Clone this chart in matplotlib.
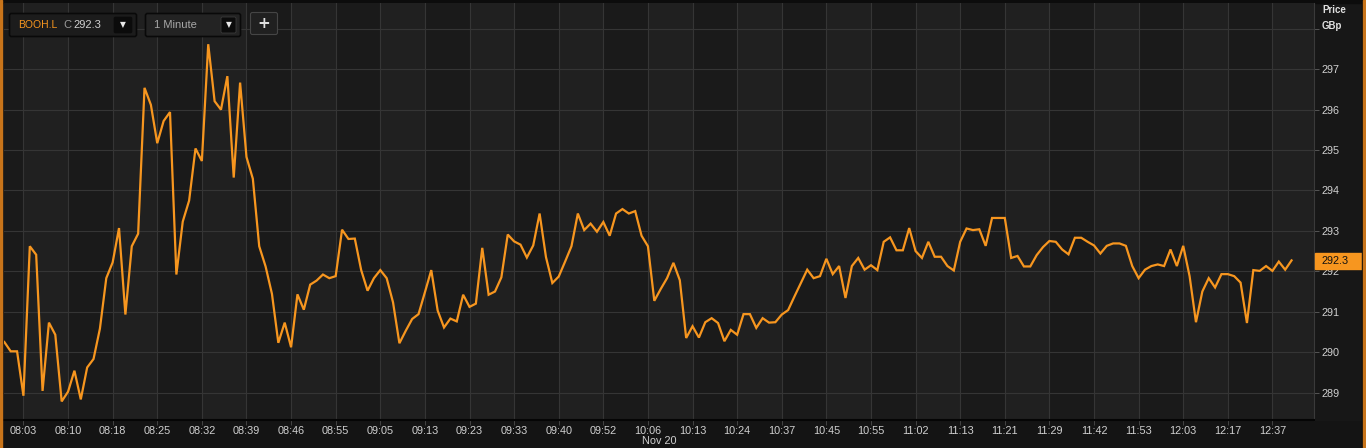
import numpy as np
import matplotlib.pyplot as plt
from matplotlib.patches import Rectangle, FancyBboxPatch

plt.rcParams['font.family'] = ['Liberation Sans', 'DejaVu Sans']

# ----- data (1 minute closes, BOOH.L) -----
prices = [
    290.25, 290.02, 290.02, 288.92, 292.62, 292.41, 289.04, 290.73, 290.43, 288.78,
    289.02, 289.54, 288.83, 289.62, 289.83, 290.58, 291.83, 292.22, 293.07, 290.93,
    292.62, 292.93, 296.54, 296.12, 295.17, 295.72, 295.94, 291.92, 293.23, 293.75,
    295.04, 294.73, 297.62, 296.21, 296.00, 296.83, 294.32, 296.67, 294.83, 294.29,
    292.62, 292.12, 291.44, 290.23, 290.73, 290.12, 291.43, 291.05, 291.67, 291.77,
    291.92, 291.83, 291.88, 293.03, 292.80, 292.81, 292.03, 291.52, 291.83, 292.03,
    291.83, 291.23, 290.22, 290.53, 290.82, 290.94, 291.48, 292.03, 291.03, 290.61,
    290.83, 290.76, 291.42, 291.12, 291.20, 292.58, 291.42, 291.50, 291.85, 292.91,
    292.74, 292.66, 292.34, 292.64, 293.43, 292.35, 291.71, 291.87, 292.24, 292.62,
    293.43, 293.02, 293.18, 292.98, 293.22, 292.88, 293.43, 293.54, 293.43, 293.49,
    292.88, 292.62, 291.27, 291.56, 291.83, 292.21, 291.78, 290.35, 290.64, 290.36,
    290.74, 290.84, 290.72, 290.27, 290.55, 290.43, 290.94, 290.94, 290.60, 290.84,
    290.73, 290.74, 290.93, 291.04, 291.38, 291.71, 292.04, 291.83, 291.88, 292.31,
    291.93, 292.13, 291.34, 292.13, 292.33, 292.04, 292.15, 292.03, 292.73, 292.84,
    292.52, 292.52, 293.07, 292.50, 292.33, 292.73, 292.36, 292.36, 292.13, 292.02,
    292.73, 293.06, 293.02, 293.04, 292.63, 293.32, 293.32, 293.32, 292.33, 292.38,
    292.12, 292.12, 292.40, 292.60, 292.75, 292.73, 292.54, 292.42, 292.83, 292.83,
    292.73, 292.64, 292.44, 292.63, 292.69, 292.69, 292.63, 292.13, 291.83, 292.04,
    292.13, 292.17, 292.13, 292.54, 292.13, 292.63, 291.88, 290.74, 291.50, 291.83,
    291.60, 291.93, 291.93, 291.88, 291.72, 290.72, 292.03, 292.01, 292.13, 292.01,
    292.24, 292.04, 292.27,
]
time_labels = ['08:03', '08:10', '08:18', '08:25', '08:32', '08:39', '08:46', '08:55',
               '09:05', '09:13', '09:23', '09:33', '09:40', '09:52', '10:06', '10:13',
               '10:24', '10:37', '10:45', '10:55', '11:02', '11:13', '11:21', '11:29',
               '11:42', '11:53', '12:03', '12:17', '12:37']
date_label = 'Nov 20'
price_ticks = [289, 290, 291, 292, 293, 294, 295, 296, 297, 298]
symbol = 'BOOH.L'
last_price = 292.3
interval = '1 Minute'

# colours
ORANGE = '#f7961f'
TXT = '#d0d0d0'
GRID = '#353535'
DARK_COL = '#1a1a1a'
LIGHT_COL = '#202020'

W, H = 1366, 448
fig = plt.figure(figsize=(W / 100, H / 100), dpi=100, facecolor='#151515')

# background panels (pixel coords)
bg = fig.add_axes([0, 0, 1, 1], zorder=-1)
bg.set_xlim(0, W)
bg.set_ylim(H, 0)
bg.axis('off')
bg.add_patch(Rectangle((0, 420), W, 28, color='#141414'))
bg.add_patch(Rectangle((1314, 0), 50, 420, color='#171717'))
bg.add_patch(Rectangle((0, 0), W, 3, color='#0c0c0c'))

# main price axes
left, right, top, bottom = 4, 1314, 3, 420
ax = fig.add_axes([left / W, 1 - bottom / H, (right - left) / W, (bottom - top) / H])
ax.set_facecolor(DARK_COL)

x = np.arange(len(prices))
tick_pos = [3 + 7 * k for k in range(len(time_labels))]
step = (1272.3 - 23.3) / (tick_pos[-1] - tick_pos[0])
x0 = -0.05
ax.set_xlim(x0, x0 + (right - left) / step)
ax.set_ylim(288.32, 298.64)

# alternating column shading between time grid lines
edges = tick_pos + [ax.get_xlim()[1]]
for k in range(len(tick_pos)):
    if k % 2 == 0:
        ax.axvspan(edges[k], edges[k + 1], color=LIGHT_COL, lw=0, zorder=0)

ax.plot(x, prices, color=ORANGE, lw=1.6, zorder=3, solid_joinstyle='miter')

ax.set_xticks(tick_pos)
ax.set_xticklabels(time_labels)
ax.set_yticks(price_ticks)
ax.set_yticklabels([str(v) if v != 298 else '' for v in price_ticks])
ax.yaxis.tick_right()
ax.grid(True, color=GRID, lw=0.8, zorder=1)
ax.set_axisbelow(True)
ax.tick_params(axis='x', length=3.5, width=0.7, color='#444444', colors=TXT,
               labelsize=7.8, pad=1)
ax.tick_params(axis='y', length=3.5, width=0.7, color='#555555', colors=TXT,
               labelsize=7.8, pad=2)
for s in ['top', 'left']:
    ax.spines[s].set_visible(False)
ax.spines['bottom'].set_color('#050505')
ax.spines['bottom'].set_linewidth(1.5)
ax.spines['right'].set_color('#3a3a3a')
ax.spines['right'].set_linewidth(0.8)

# overlay: header widgets, labels, price tag, borders
ov = fig.add_axes([0, 0, 1, 1], zorder=2, facecolor='none')
ov.set_xlim(0, W)
ov.set_ylim(H, 0)
ov.axis('off')

ov.text(659, 441.5, date_label, color=TXT, fontsize=7.8, ha='center', va='center')
ov.text(1322, 10, 'Price', color='#e0e0e0', fontsize=7, fontweight='bold', va='center')
ov.text(1322, 26, 'GBp', color='#e0e0e0', fontsize=7, fontweight='bold', va='center')

# last price tag
ov.add_patch(Rectangle((1315, 253), 47, 16, color=ORANGE))
ov.text(1322, 261.5, f'{last_price:.1f}', color='#111111', fontsize=7.8, va='center')

# symbol box
ov.add_patch(FancyBboxPatch((9.5, 13.5), 127, 23, boxstyle='round,pad=0,rounding_size=2',
                            fc='#1c1c1c', ec='#090909', lw=1.2))
ov.text(18, 25, symbol, color=ORANGE, fontsize=7.5, va='center')
ov.text(63, 25, 'C', color='#9a9a9a', fontsize=8, va='center')
ov.text(73, 25, f'{last_price:.1f}', color='#d0d0d0', fontsize=8, va='center')
ov.add_patch(FancyBboxPatch((114, 17), 18, 16, boxstyle='round,pad=0,rounding_size=1.5',
                            fc='#0b0b0b', ec='#0b0b0b', lw=0.5))
ov.text(123, 24.5, '\u25bc', color='#e8e8e8', fontsize=5.5, ha='center', va='center',
        family='DejaVu Sans')

# interval box
ov.add_patch(FancyBboxPatch((145.5, 13.5), 95, 23, boxstyle='round,pad=0,rounding_size=2',
                            fc='#232323', ec='#090909', lw=1.2))
ov.text(154, 24.5, interval, color='#a8a8a8', fontsize=8, va='center')
ov.add_patch(FancyBboxPatch((221, 17), 15, 16, boxstyle='round,pad=0,rounding_size=1.5',
                            fc='#0b0b0b', ec='#3a3a3a', lw=0.6))
ov.text(228.5, 24.5, '\u25bc', color='#e8e8e8', fontsize=5.5, ha='center', va='center',
        family='DejaVu Sans')

# add button
ov.add_patch(FancyBboxPatch((250.5, 12.5), 27, 22, boxstyle='round,pad=0,rounding_size=2',
                            fc='#202020', ec='#454545', lw=0.8))
ov.text(264, 23, '+', color='#e0e0e0', fontsize=11, fontweight='bold', ha='center',
        va='center', family='DejaVu Sans')

# orange frame sides
ov.add_patch(Rectangle((0, 0), 1.6, H, color='#c8741a'))
ov.add_patch(Rectangle((1362, 0), 1.2, H, color='#070707'))
ov.add_patch(Rectangle((1363.4, 0), 2.6, H, color='#c8741a'))

fig.savefig('out.png', dpi=100, facecolor=fig.get_facecolor())
